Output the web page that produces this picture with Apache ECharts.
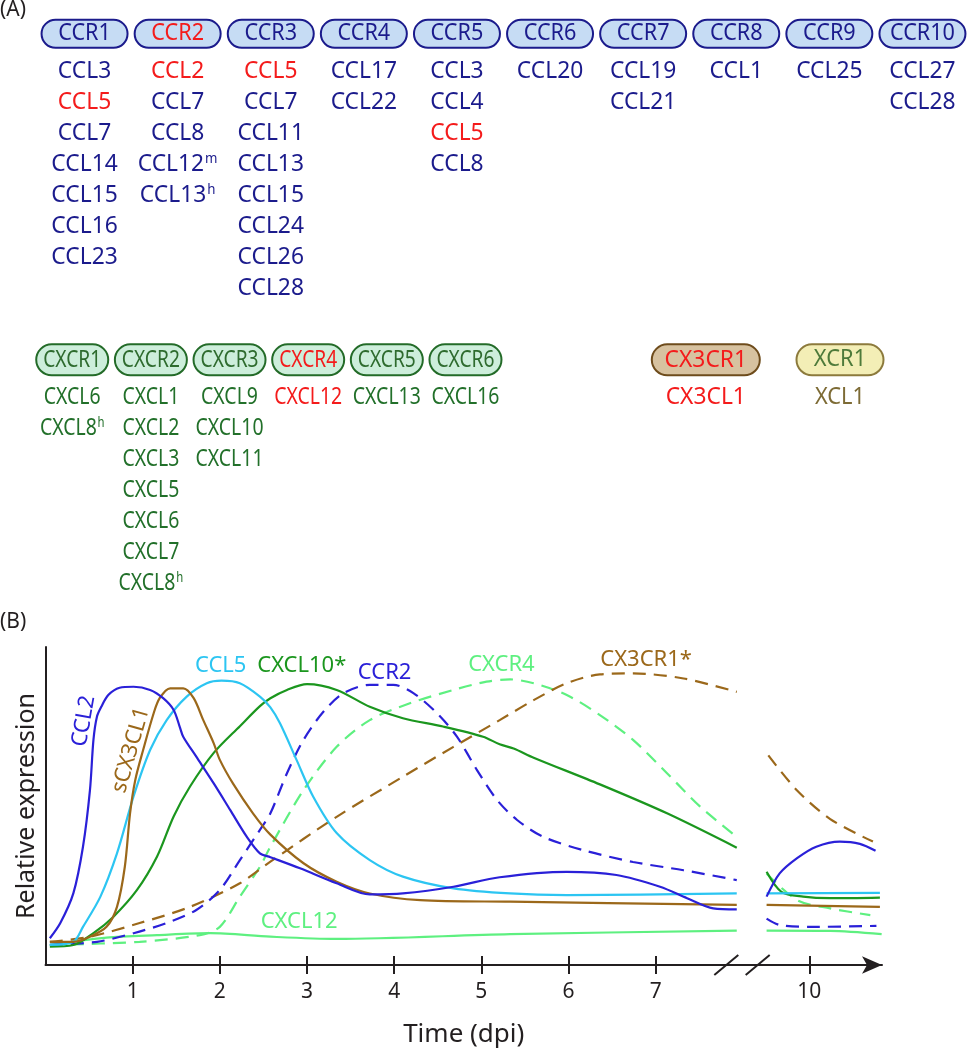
<!DOCTYPE html>
<html><head><meta charset="utf-8">
<script src="https://cdn.jsdelivr.net/npm/echarts@6/dist/echarts.min.js"></script>
<style>html,body{margin:0;padding:0;background:#fff}#c{width:969px;height:1050px}</style>
</head><body><div id="c"></div>
<script>
// ===== Panel A data =====
const ccrReceptors = ['CCR1','CCR2','CCR3','CCR4','CCR5','CCR6','CCR7','CCR8','CCR9','CCR10'];
const ccrLigands = [
  ['CCL3','CCL5','CCL7','CCL14','CCL15','CCL16','CCL23'],
  ['CCL2','CCL7','CCL8','CCL12^m','CCL13^h'],
  ['CCL5','CCL7','CCL11','CCL13','CCL15','CCL24','CCL26','CCL28'],
  ['CCL17','CCL22'],
  ['CCL3','CCL4','CCL5','CCL8'],
  ['CCL20'],
  ['CCL19','CCL21'],
  ['CCL1'],
  ['CCL25'],
  ['CCL27','CCL28']
];
const cxcrReceptors = ['CXCR1','CXCR2','CXCR3','CXCR4','CXCR5','CXCR6'];
const cxcrLigands = [
  ['CXCL6','CXCL8^h'],
  ['CXCL1','CXCL2','CXCL3','CXCL5','CXCL6','CXCL7','CXCL8^h'],
  ['CXCL9','CXCL10','CXCL11'],
  ['CXCL12'],
  ['CXCL13'],
  ['CXCL16']
];
const cx3crReceptors = ['CX3CR1'];
const cx3crLigands = [['CX3CL1']];
const xcrReceptors = ['XCR1'];
const xcrLigands = [['XCL1']];
const highlighted = ['CCR2','CCL2','CCL5','CXCR4','CXCL12','CX3CR1','CX3CL1'];

// ===== Panel B data (x = days post injury, y = relative expression 0-100) =====
const xTicksMain = [1,2,3,4,5,6,7];
const xTicksLate = [10];
const ccl2Early = [[0.05,8.4],[0.17,13.2],[0.32,22.6],[0.43,37.2],[0.51,55.0],[0.55,70.8],[0.59,78.1],[0.64,81.2],[0.72,84.9],[0.85,87.2],[1.01,87.5],[1.20,86.5],[1.35,83.9],[1.47,80.2],[1.54,74.9],[1.58,71.8],[1.73,65.5],[1.93,57.1],[2.12,48.7],[2.31,40.3],[2.46,35.1],[2.58,33.9],[2.92,30.4],[3.34,25.7],[3.72,22.2],[4.10,22.5],[4.68,24.6],[5.21,27.6],[5.98,29.3],[6.55,28.3],[7.05,24.6],[7.36,21.0],[7.66,17.8],[7.93,17.5]];
const ccl2Late = [[9.51,21.5],[9.66,28.8],[9.86,33.6],[10.08,37.2],[10.35,38.8],[10.58,38.1],[10.76,35.9]];
const scx3cl1Early = [[0.05,7.3],[0.32,7.3],[0.51,8.9],[0.70,12.0],[0.82,18.3],[0.91,30.9],[0.97,47.7],[1.03,58.2],[1.12,67.6],[1.24,79.1],[1.31,83.9],[1.43,87.0],[1.58,87.0],[1.70,83.9],[1.81,77.0],[1.93,69.7],[2.00,64.5],[2.15,57.1],[2.38,47.7],[2.58,41.0],[2.96,32.0],[3.34,26.2],[3.72,22.5],[4.30,20.4],[5.33,19.9],[7.93,18.9]];
const scx3cl1Late = [[9.51,18.9],[10.81,18.3]];
const ccl5Early = [[0.05,6.3],[0.32,7.3],[0.43,12.0],[0.63,21.5],[0.82,35.1],[1.01,53.0],[1.20,67.6],[1.39,77.0],[1.62,84.4],[1.85,88.6],[2.02,89.4],[2.23,88.6],[2.46,84.4],[2.58,81.0],[2.69,76.0],[2.88,64.5],[3.07,53.0],[3.34,41.5],[3.72,33.0],[4.10,27.8],[4.68,24.1],[5.33,22.5],[5.98,22.0],[7.93,22.5]];
const ccl5Late = [[9.51,22.5],[10.81,22.7]];
const cxcl10Early = [[0.05,5.8],[0.32,6.3],[0.55,10.0],[0.78,15.2],[1.05,23.6],[1.28,34.1],[1.47,46.7],[1.66,56.2],[1.93,66.7],[2.23,75.1],[2.46,81.4],[2.58,83.9],[2.77,86.5],[3.00,88.3],[3.34,86.5],[3.72,81.2],[4.10,77.6],[4.56,75.0],[5.02,71.8],[5.21,69.4],[5.37,68.1],[5.60,65.2],[6.36,56.8],[7.13,47.7],[7.93,36.9]];
const cxcl10Late = [[9.51,29.3],[9.68,23.0],[9.93,21.5],[10.24,21.0],[10.81,21.2]];
const cxcl12Early = [[0.05,6.3],[0.70,8.6],[1.28,9.4],[1.89,10.0],[2.58,8.9],[3.34,8.2],[5.33,9.7],[7.93,10.8]];
const cxcl12Late = [[9.51,10.8],[10.24,10.7],[10.83,9.7]];
const ccr2Early = [[0.05,6.3],[0.59,7.3],[1.01,10.0],[1.39,13.2],[1.73,17.3],[2.00,23.6],[2.23,33.0],[2.46,42.5],[2.58,47.7],[2.77,60.3],[2.96,70.8],[3.19,79.7],[3.42,85.5],[3.72,88.1],[3.99,88.1],[4.22,85.5],[4.49,79.2],[4.72,71.8],[4.95,61.3],[5.18,51.9],[5.41,45.6],[5.71,40.3],[6.17,36.1],[6.74,32.4],[7.32,29.8],[7.93,26.7]];
const ccr2Late = [[9.51,14.6],[9.66,12.6],[10.05,12.0],[10.77,12.3]];
const cx3cr1Early = [[0.05,7.3],[0.51,8.9],[1.08,13.2],[1.66,18.3],[2.23,25.7],[2.58,32.5],[3.34,46.6],[4.10,59.2],[4.68,68.6],[5.21,77.0],[5.60,83.3],[5.98,88.6],[6.36,91.4],[6.74,91.7],[7.32,90.1],[7.93,85.9]];
const cx3cr1Late = [[9.53,65.9],[9.86,54.9],[10.24,45.9],[10.73,38.8]];
const cxcr4Early = [[0.05,6.3],[1.08,7.3],[1.77,9.4],[2.00,12.0],[2.23,21.5],[2.46,30.9],[2.58,37.2],[2.96,55.0],[3.34,68.6],[3.72,77.0],[4.18,82.3],[4.68,86.5],[5.06,89.1],[5.33,89.8],[5.60,88.6],[5.98,84.9],[6.36,78.6],[6.74,70.8],[7.13,60.3],[7.51,49.8],[7.93,40.3]];
const cxcr4Late = [[9.51,28.8],[9.86,20.4],[10.24,17.8],[10.70,15.7]];

// ===== styles =====
const FAM = '"Noto Sans", "Open Sans", sans-serif';
const FONT = FAM;
const RED='#f41b1b', AXIS='#231f20';
const BLUE='#2a20d8', BROWN='#9b681a', CYAN='#2cc5f2', GREEN='#1b961e', LGREEN='#5ef080';
const NAVY='#1b1b8c';

const families = [
  {recs:ccrReceptors, ligs:ccrLigands, grid:{left:38, top:24.5, width:934, height:294.5}, ymax:8,
   pill:[86,28], fill:'#c6dcf4', border:NAVY, recColor:NAVY, ligColor:NAVY,
   recSize:23, recScale:0.94, ligSize:24, ligScale:0.95},
  {recs:cxcrReceptors, ligs:cxcrLigands, grid:{left:32.9, top:350.5, width:471.9, height:263.5}, ymax:7,
   pill:[72,31], fill:'#cdeedb', border:'#236b28', recColor:'#2e6b2e', ligColor:'#22702a',
   recSize:24, recScale:0.8, ligSize:24, ligScale:0.81},
  {recs:cx3crReceptors, ligs:cx3crLigands, grid:{left:645.8, top:350.5, width:120, height:263.5}, ymax:7,
   pill:[108,31], fill:'#d7c2a0', border:'#6e4c1c', recColor:'#6e4c1c', ligColor:'#6e4c1c',
   recSize:24, recScale:0.95, ligSize:24, ligScale:0.95},
  {recs:xcrReceptors, ligs:xcrLigands, grid:{left:790, top:350.5, width:100, height:263.5}, ymax:7,
   pill:[87,31], fill:'#f3eeb6', border:'#8c7a3c', recColor:'#4e7a3a', ligColor:'#7d6b35',
   recSize:23, recScale:0.95, ligSize:23, ligScale:0.95}
];
const PILL_ROW = -1.2;
const font = (size)=> size+'px '+FAM;

const grids=[], xAxes=[], yAxes=[], series=[];
families.forEach((f,g)=>{
  grids.push(f.grid);
  xAxes.push({type:'category', gridIndex:g, data:f.recs, show:false});
  yAxes.push({type:'value', gridIndex:g, min:-1.5, max:f.ymax, inverse:true, show:false});
  // receptor pills
  series.push({type:'custom', xAxisIndex:g, yAxisIndex:g, silent:true, z:2,
    data:f.recs.map(r=>[r,PILL_ROW]),
    renderItem:(params, api)=>{
      const p = api.coord([api.value(0), api.value(1)]);
      const name = f.recs[params.dataIndex];
      const w=f.pill[0], h=f.pill[1];
      return {type:'group', children:[
        {type:'rect', shape:{x:p[0]-w/2, y:p[1]-h/2, width:w, height:h, r:h/2},
         style:{fill:f.fill, stroke:f.border, lineWidth:2}},
        {type:'text', x:p[0], y:p[1], scaleX:f.recScale,
         style:{text:name, fill: highlighted.includes(name)?RED:f.recColor, font:font(f.recSize), align:'center', verticalAlign:'middle'}}
      ]};
    }});
  // ligand names
  const ligItems=[];
  f.ligs.forEach((list,i)=>list.forEach((l,k)=>ligItems.push({name:l, value:[f.recs[i],k]})));
  series.push({type:'custom', xAxisIndex:g, yAxisIndex:g, silent:true, z:3,
    data:ligItems.map(d=>d.value),
    renderItem:(params, api)=>{
      const p = api.coord([api.value(0), api.value(1)]);
      const name = ligItems[params.dataIndex].name;
      const parts = name.split('^');
      const col = highlighted.includes(name)?RED:f.ligColor;
      const txt = parts.length>1 ? ('{t|'+parts[0]+'}{s|'+parts[1]+'}') : ('{t|'+parts[0]+'}');
      return {type:'text', x:p[0], y:p[1], scaleX:f.ligScale,
        style:{text:txt, fill:col, font:font(f.ligSize), align:'center', verticalAlign:'middle',
          rich:{t:{font:font(f.ligSize), fill:col}, s:{font:font(14), fill:col, verticalAlign:'top', padding:[0,0,0,1]}}}};
    }});
});

// ===== Panel B =====
const GB = 4; // first panel-B grid index
const PX_PER_DAY = 87.17;
grids.push({left:45.5, top:647, width:836.5, height:318});            // early days
grids.push({left:809.3-0.5*PX_PER_DAY, top:647, width:1.35*PX_PER_DAY, height:318}); // late (day 10)
const tickStyle={color:AXIS, width:2};
const labelStyle={fontFamily:FONT, fontSize:21, color:AXIS, margin:17};
xAxes.push({type:'value', gridIndex:GB, min:0, max:836.5/PX_PER_DAY, position:'bottom',
  axisLine:{show:true, symbol:['none','arrow'], symbolSize:[13,20], lineStyle:{color:AXIS, width:2}},
  axisTick:{show:true, customValues:xTicksMain, length:9, lineStyle:tickStyle},
  axisLabel:Object.assign({show:true, customValues:xTicksMain}, labelStyle),
  splitLine:{show:false},
  name:'Time (dpi)', nameLocation:'middle', nameGap:57,
  nameTextStyle:{fontFamily:FONT, fontSize:26, color:AXIS}});
xAxes.push({type:'value', gridIndex:GB, min:0, max:836.5/PX_PER_DAY, position:'bottom', offset:0,
  axisLine:{show:false}, axisTick:{show:true, inside:true, customValues:xTicksMain, length:9, lineStyle:tickStyle},
  axisLabel:{show:false}, splitLine:{show:false}});
xAxes.push({type:'value', gridIndex:GB+1, min:9.5, max:10.85, position:'bottom',
  axisLine:{show:false}, axisTick:{show:true, customValues:xTicksLate, length:9, lineStyle:tickStyle},
  axisLabel:Object.assign({show:true, customValues:xTicksLate}, labelStyle), splitLine:{show:false}});
xAxes.push({type:'value', gridIndex:GB+1, min:9.5, max:10.85, position:'bottom', offset:0,
  axisLine:{show:false}, axisTick:{show:true, inside:true, customValues:xTicksLate, length:9, lineStyle:tickStyle},
  axisLabel:{show:false}, splitLine:{show:false}});
yAxes.push({type:'value', gridIndex:GB, min:0, max:100,
  axisLine:{show:true, lineStyle:{color:AXIS, width:2}}, axisTick:{show:false}, axisLabel:{show:false}, splitLine:{show:false},
  name:'Relative expression', nameLocation:'middle', nameGap:6,
  nameTextStyle:{fontFamily:FONT, fontSize:25, color:AXIS}});
yAxes.push({type:'value', gridIndex:GB+1, min:0, max:100, show:false});

const curves = [
  {early:cxcl12Early, late:cxcl12Late, color:LGREEN, dashed:false, label:'CXCL12', at:[2.91,13.5], rotate:0},
  {early:cxcr4Early, late:cxcr4Late, color:LGREEN, dashed:true, label:'CXCR4', at:[5.23,94.3], rotate:0},
  {early:cx3cr1Early, late:cx3cr1Late, color:BROWN, dashed:true, label:'CX3CR1*', at:[6.89,95.9], rotate:0},
  {early:ccr2Early, late:ccr2Late, color:BLUE, dashed:true, label:'CCR2', at:[3.89,91.8], rotate:0},
  {early:cxcl10Early, late:cxcl10Late, color:GREEN, dashed:false, label:'CXCL10*', at:[2.94,94.0], rotate:0},
  {early:ccl5Early, late:ccl5Late, color:CYAN, dashed:false, label:'CCL5', at:[2.01,94.0], rotate:0},
  {early:scx3cl1Early, late:scx3cl1Late, color:BROWN, dashed:false, label:'sCX3CL1', at:[0.98,67.6], rotate:74},
  {early:ccl2Early, late:ccl2Late, color:BLUE, dashed:false, label:'CCL2', at:[0.44,76.7], rotate:80}
];
curves.forEach(c=>{
  const ls={color:c.color, width:2.2, type:c.dashed?[13,8]:'solid'};
  series.push({type:'line', xAxisIndex:GB, yAxisIndex:GB, data:c.early, showSymbol:false, symbol:'none',
    smooth:0.3, lineStyle:ls, silent:true,
    markPoint:{silent:true, symbol:'circle', symbolSize:0, animation:false,
      label:{show:true, position:'inside', formatter:c.label, color:c.color, fontFamily:FONT, fontSize:22, rotate:c.rotate},
      data:[{coord:c.at}]}});
  series.push({type:'line', xAxisIndex:GB+2, yAxisIndex:GB+1, data:c.late, showSymbol:false, symbol:'none',
    smooth:0.3, lineStyle:ls, silent:true});
});

const chart = echarts.init(document.getElementById('c'), null, {renderer:'canvas'});
chart.setOption({
  animation:false,
  backgroundColor:'#fff',
  title:[
    {text:'(A)', left:0, top:0, padding:0, textStyle:{fontFamily:FONT, fontSize:21, fontWeight:'normal', color:AXIS}},
    {text:'(B)', left:0, top:612, padding:0, textStyle:{fontFamily:FONT, fontSize:21, fontWeight:'normal', color:AXIS}}
  ],
  grid:grids, xAxis:xAxes, yAxis:yAxes, series:series
});
// axis-break marks on the time axis
const breakDays=[7.81, 8.17];
const gfx = breakDays.map(d=>{
  const p = chart.convertToPixel({xAxisIndex:GB, yAxisIndex:GB}, [d,0]);
  return {type:'line', silent:true, z:100, shape:{x1:p[0]-12, y1:p[1]+10, x2:p[0]+12, y2:p[1]-10},
    style:{stroke:AXIS, lineWidth:2}};
});
chart.setOption({graphic:gfx});
</script></body></html>
